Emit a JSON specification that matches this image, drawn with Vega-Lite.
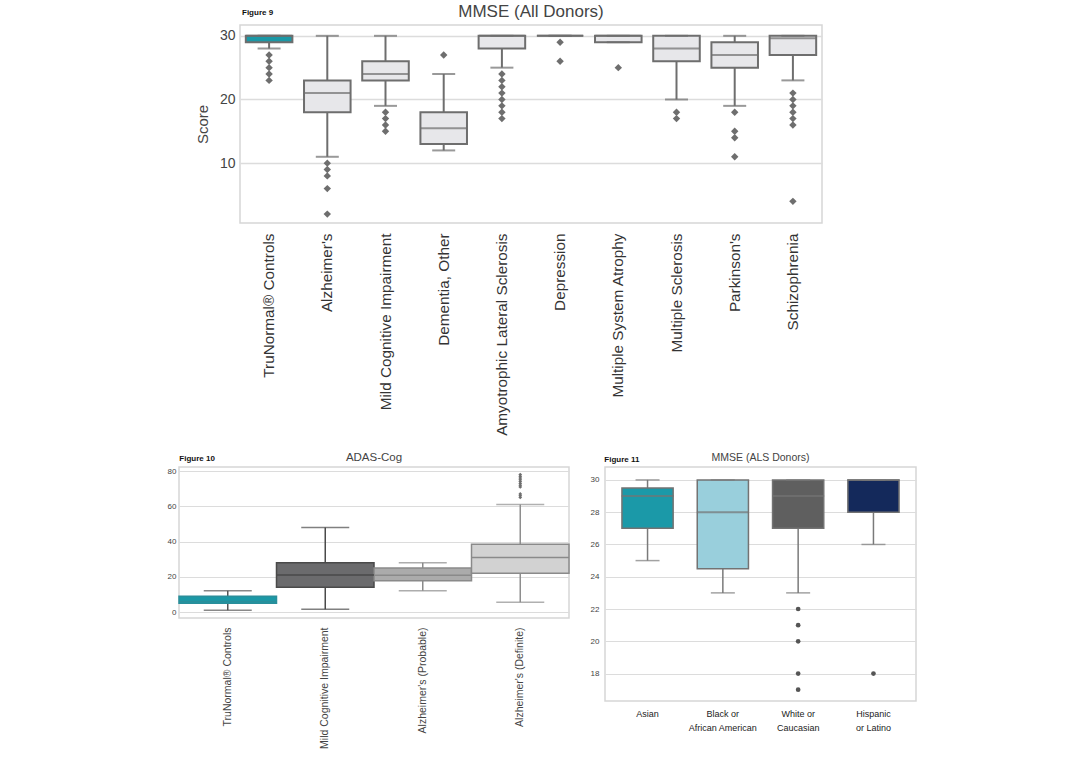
{
  "$schema": "https://vega.github.io/schema/vega-lite/v6.json",
  "background": "white",
  "padding": {"left": 166, "top": 2, "right": 5, "bottom": 2},
  "config": {
    "font": "Liberation Sans",
    "view": {"stroke": "#d6d6d6", "strokeWidth": 1.5},
    "axis": {"domain": false, "ticks": false, "labelColor": "#444", "titleColor": "#444", "titleFontWeight": "normal", "gridColor": "#dcdcdc", "tickCount": 20, "labelOverlap": false, "labelLimit": 400},
    "title": {"fontWeight": "normal", "color": "#444"}
  },
  "datasets": {
    "spacer": [],
    "f9": [
      {"cat": "TruNormal® Controls", "lo": 28, "q1": 29, "med": 30, "q3": 30, "hi": 30},
      {"cat": "Alzheimer's", "lo": 11, "q1": 18, "med": 21, "q3": 23, "hi": 30},
      {"cat": "Mild Cognitive Impairment", "lo": 19, "q1": 23, "med": 24, "q3": 26, "hi": 30},
      {"cat": "Dementia, Other", "lo": 12, "q1": 13, "med": 15.5, "q3": 18, "hi": 24},
      {"cat": "Amyotrophic Lateral Sclerosis", "lo": 25, "q1": 28, "med": 30, "q3": 30, "hi": 30},
      {"cat": "Depression", "lo": 30, "q1": 30, "med": 30, "q3": 30, "hi": 30},
      {"cat": "Multiple System Atrophy", "lo": 29, "q1": 29, "med": 30, "q3": 30, "hi": 30},
      {"cat": "Multiple Sclerosis", "lo": 20, "q1": 26, "med": 28, "q3": 30, "hi": 30},
      {"cat": "Parkinson's", "lo": 19, "q1": 25, "med": 27, "q3": 29, "hi": 30},
      {"cat": "Schizophrenia", "lo": 23, "q1": 27, "med": 29.6, "q3": 30, "hi": 30}
    ],
    "f9o": [
      {"cat": "TruNormal® Controls", "v": 27}, {"cat": "TruNormal® Controls", "v": 26}, {"cat": "TruNormal® Controls", "v": 25}, {"cat": "TruNormal® Controls", "v": 24}, {"cat": "TruNormal® Controls", "v": 23},
      {"cat": "Alzheimer's", "v": 10}, {"cat": "Alzheimer's", "v": 9}, {"cat": "Alzheimer's", "v": 8}, {"cat": "Alzheimer's", "v": 6}, {"cat": "Alzheimer's", "v": 2},
      {"cat": "Mild Cognitive Impairment", "v": 18}, {"cat": "Mild Cognitive Impairment", "v": 17}, {"cat": "Mild Cognitive Impairment", "v": 16}, {"cat": "Mild Cognitive Impairment", "v": 15},
      {"cat": "Dementia, Other", "v": 27},
      {"cat": "Amyotrophic Lateral Sclerosis", "v": 24}, {"cat": "Amyotrophic Lateral Sclerosis", "v": 23}, {"cat": "Amyotrophic Lateral Sclerosis", "v": 22}, {"cat": "Amyotrophic Lateral Sclerosis", "v": 21}, {"cat": "Amyotrophic Lateral Sclerosis", "v": 20}, {"cat": "Amyotrophic Lateral Sclerosis", "v": 19}, {"cat": "Amyotrophic Lateral Sclerosis", "v": 18}, {"cat": "Amyotrophic Lateral Sclerosis", "v": 17},
      {"cat": "Depression", "v": 29}, {"cat": "Depression", "v": 26},
      {"cat": "Multiple System Atrophy", "v": 25},
      {"cat": "Multiple Sclerosis", "v": 18}, {"cat": "Multiple Sclerosis", "v": 17},
      {"cat": "Parkinson's", "v": 18}, {"cat": "Parkinson's", "v": 15}, {"cat": "Parkinson's", "v": 14}, {"cat": "Parkinson's", "v": 11},
      {"cat": "Schizophrenia", "v": 21}, {"cat": "Schizophrenia", "v": 20}, {"cat": "Schizophrenia", "v": 19}, {"cat": "Schizophrenia", "v": 18}, {"cat": "Schizophrenia", "v": 17}, {"cat": "Schizophrenia", "v": 16}, {"cat": "Schizophrenia", "v": 4}
    ],
    "f10": [
      {"cat": "TruNormal® Controls", "lo": 1, "q1": 5, "med": 6, "q3": 9, "hi": 12},
      {"cat": "Mild Cognitive Impairment", "lo": 1.5, "q1": 14, "med": 21, "q3": 28, "hi": 48},
      {"cat": "Alzheimer's (Probable)", "lo": 12, "q1": 17.7, "med": 20.8, "q3": 25, "hi": 28},
      {"cat": "Alzheimer's (Definite)", "lo": 5.5, "q1": 22, "med": 31, "q3": 38.5, "hi": 61}
    ],
    "f10o": [
      {"cat": "Alzheimer's (Definite)", "v": 78}, {"cat": "Alzheimer's (Definite)", "v": 77}, {"cat": "Alzheimer's (Definite)", "v": 76}, {"cat": "Alzheimer's (Definite)", "v": 75}, {"cat": "Alzheimer's (Definite)", "v": 74}, {"cat": "Alzheimer's (Definite)", "v": 73}, {"cat": "Alzheimer's (Definite)", "v": 72}, {"cat": "Alzheimer's (Definite)", "v": 71}, {"cat": "Alzheimer's (Definite)", "v": 67}, {"cat": "Alzheimer's (Definite)", "v": 66}, {"cat": "Alzheimer's (Definite)", "v": 65}
    ],
    "f11": [
      {"cat": "Asian", "lo": 25, "q1": 27, "med": 29, "q3": 29.5, "hi": 30},
      {"cat": "Black or African American", "lo": 23, "q1": 24.5, "med": 28, "q3": 30, "hi": 30},
      {"cat": "White or Caucasian", "lo": 23, "q1": 27, "med": 29, "q3": 30, "hi": 30},
      {"cat": "Hispanic or Latino", "lo": 26, "q1": 28, "med": 30, "q3": 30, "hi": 30}
    ],
    "f11o": [
      {"cat": "White or Caucasian", "v": 22}, {"cat": "White or Caucasian", "v": 21}, {"cat": "White or Caucasian", "v": 20}, {"cat": "White or Caucasian", "v": 18}, {"cat": "White or Caucasian", "v": 17},
      {"cat": "Hispanic or Latino", "v": 18}
    ]
  },
  "spacing": 13,
  "resolve": {"scale": {"fill": "independent", "stroke": "independent", "color": "independent"}},
  "vconcat": [
    {
      "title": {"text": "Figure 9", "anchor": "start", "fontSize": 8, "fontWeight": "bold", "color": "#111", "offset": -15, "dx": 63},
      "spacing": 5,
      "resolve": {"scale": {"fill": "independent", "stroke": "independent", "color": "independent"}},
      "hconcat": [
        {
          "width": 10,
          "height": 10,
          "view": {"stroke": null},
          "data": {"name": "spacer"},
          "mark": "point"
        },
        {
          "width": 582,
          "height": 198,
          "title": {"text": "MMSE (All Donors)", "fontSize": 17, "offset": 4},
          "data": {"name": "f9"},
          "encoding": {
            "x": {"field": "cat", "type": "nominal", "sort": null, "scale": {"type": "band", "paddingInner": 0, "paddingOuter": 0},
                  "axis": {"title": null, "labelAngle": -90, "labelFontSize": 15.3, "labelPadding": 10, "labelColor": "#333", "grid": false}}
          },
          "layer": [
            {"mark": {"type": "rule", "color": "#6e6e6e", "strokeWidth": 2},
             "encoding": {"y": {"field": "lo", "type": "quantitative", "scale": {"domain": [0.6, 31.7], "nice": false, "zero": false},
                                "axis": {"title": "Score", "titleFontSize": 15, "titlePadding": 9, "labelFontSize": 14, "values": [10, 20, 30], "grid": true, "gridWidth": 1.5, "labelPadding": 5}},
                          "y2": {"field": "hi"}}},
            {"mark": {"type": "bar", "width": {"band": 0.8}, "stroke": "#6e6e6e", "strokeWidth": 2},
             "encoding": {"y": {"field": "q1", "type": "quantitative"}, "y2": {"field": "q3"},
                          "fill": {"field": "cat", "type": "nominal", "legend": null,
                                   "scale": {"domain": ["TruNormal® Controls", "Alzheimer's", "Mild Cognitive Impairment", "Dementia, Other", "Amyotrophic Lateral Sclerosis", "Depression", "Multiple System Atrophy", "Multiple Sclerosis", "Parkinson's", "Schizophrenia"],
                                             "range": ["#1b98a6", "#e7e7ea", "#e7e7ea", "#e7e7ea", "#e7e7ea", "#e7e7ea", "#e7e7ea", "#e7e7ea", "#e7e7ea", "#e7e7ea"]}}}},
            {"mark": {"type": "tick", "orient": "horizontal", "color": "#6e6e6e", "size": 46, "thickness": 2},
             "encoding": {"y": {"field": "med", "type": "quantitative"}}},
            {"mark": {"type": "tick", "orient": "horizontal", "color": "#6e6e6e", "size": 23, "thickness": 2},
             "encoding": {"y": {"field": "lo", "type": "quantitative"}}},
            {"mark": {"type": "tick", "orient": "horizontal", "color": "#6e6e6e", "size": 23, "thickness": 2},
             "encoding": {"y": {"field": "hi", "type": "quantitative"}}},
            {"data": {"name": "f9o"},
             "mark": {"type": "point", "shape": "diamond", "filled": true, "color": "#6e6e6e", "size": 55, "opacity": 1},
             "encoding": {"x": {"field": "cat", "type": "nominal", "sort": null}, "y": {"field": "v", "type": "quantitative"}}}
          ]
        }
      ]
    },
    {
      "spacing": 18,
      "resolve": {"scale": {"fill": "independent", "stroke": "independent", "color": "independent"}},
      "hconcat": [
        {
          "title": {"text": "Figure 10", "anchor": "start", "fontSize": 8, "fontWeight": "bold", "color": "#111", "offset": -12, "dx": 13},
          "resolve": {"scale": {"fill": "independent", "stroke": "independent", "color": "independent"}},
          "vconcat": [
            {
              "width": 390,
              "height": 151,
              "title": {"text": "ADAS-Cog", "fontSize": 11.5, "offset": 4},
              "data": {"name": "f10"},
              "encoding": {
                "x": {"field": "cat", "type": "nominal", "sort": null, "scale": {"type": "band", "paddingInner": 0, "paddingOuter": 0},
                      "axis": {"title": null, "labelAngle": -90, "labelFontSize": 10.5, "labelPadding": 9, "labelColor": "#444", "grid": false}}
              },
              "layer": [
                {"mark": {"type": "rule", "strokeWidth": 1.5},
                 "encoding": {"y": {"field": "lo", "type": "quantitative", "scale": {"domain": [-3.4, 82.3], "nice": false, "zero": false},
                                    "axis": {"title": null, "labelFontSize": 8, "values": [0, 20, 40, 60, 80], "grid": true, "labelPadding": 3}},
                              "y2": {"field": "hi"},
                              "color": {"field": "cat", "type": "nominal", "legend": null, "scale": {"domain": ["TruNormal® Controls", "Mild Cognitive Impairment", "Alzheimer's (Probable)", "Alzheimer's (Definite)"], "range": ["#555555", "#4a4a4a", "#8a8a8a", "#8e8e8e"]}}}},
                {"mark": {"type": "bar", "width": {"band": 1}, "strokeWidth": 1.5},
                 "encoding": {"y": {"field": "q1", "type": "quantitative"}, "y2": {"field": "q3"},
                              "fill": {"field": "cat", "type": "nominal", "legend": null, "scale": {"domain": ["TruNormal® Controls", "Mild Cognitive Impairment", "Alzheimer's (Probable)", "Alzheimer's (Definite)"], "range": ["#1b98a6", "#6b6b6d", "#ababab", "#d2d2d2"]}},
                              "stroke": {"field": "cat", "type": "nominal", "legend": null, "scale": {"domain": ["TruNormal® Controls", "Mild Cognitive Impairment", "Alzheimer's (Probable)", "Alzheimer's (Definite)"], "range": ["#2a8e9a", "#4a4a4a", "#8a8a8a", "#8a8a8a"]}}}},
                {"mark": {"type": "bar", "width": {"band": 1}, "strokeWidth": 1.5, "fillOpacity": 0},
                 "encoding": {"y": {"field": "med", "type": "quantitative"}, "y2": {"field": "med"},
                              "stroke": {"field": "cat", "type": "nominal", "legend": null}}},
                {"mark": {"type": "tick", "orient": "horizontal", "size": 48, "thickness": 1.5},
                 "encoding": {"y": {"field": "lo", "type": "quantitative"}, "color": {"field": "cat", "type": "nominal", "legend": null}}},
                {"mark": {"type": "tick", "orient": "horizontal", "size": 48, "thickness": 1.5},
                 "encoding": {"y": {"field": "hi", "type": "quantitative"}, "color": {"field": "cat", "type": "nominal", "legend": null}}},
                {"data": {"name": "f10o"},
                 "mark": {"type": "point", "shape": "diamond", "filled": true, "fill": "#6e6e6e", "stroke": null, "size": 14, "opacity": 1},
                 "encoding": {"x": {"field": "cat", "type": "nominal", "sort": null}, "y": {"field": "v", "type": "quantitative"}}}
              ]
            }
          ]
        },
        {
          "title": {"text": "Figure 11", "anchor": "start", "fontSize": 8, "fontWeight": "bold", "color": "#111", "offset": -12, "dx": 15},
          "resolve": {"scale": {"fill": "independent", "stroke": "independent", "color": "independent"}},
          "vconcat": [
            {
              "width": 311,
              "height": 234,
              "title": {"text": "MMSE (ALS Donors)", "fontSize": 10.5, "offset": 4},
              "data": {"name": "f11"},
              "encoding": {
                "x": {"field": "cat", "type": "nominal", "sort": null, "scale": {"type": "band", "paddingInner": 0, "paddingOuter": 0.065},
                      "axis": {"title": null, "labelAngle": 0, "labelFontSize": 9, "labelPadding": 8, "labelColor": "#222", "grid": false, "labelLineHeight": 14,
                               "labelExpr": "datum.label == 'Black or African American' ? ['Black or', 'African American'] : datum.label == 'White or Caucasian' ? ['White or', 'Caucasian'] : datum.label == 'Hispanic or Latino' ? ['Hispanic', 'or Latino'] : datum.label"}}
              },
              "layer": [
                {"mark": {"type": "rule", "color": "#7a7a7a", "strokeWidth": 1.5},
                 "encoding": {"y": {"field": "lo", "type": "quantitative", "scale": {"domain": [16.3, 30.8], "nice": false, "zero": false},
                                    "axis": {"title": null, "labelFontSize": 8, "values": [18, 20, 22, 24, 26, 28, 30], "grid": true, "labelPadding": 6}},
                              "y2": {"field": "hi"}}},
                {"mark": {"type": "bar", "width": {"band": 0.68}, "strokeWidth": 1.5, "stroke": "#737373"},
                 "encoding": {"y": {"field": "q1", "type": "quantitative"}, "y2": {"field": "q3"},
                              "fill": {"field": "cat", "type": "nominal", "legend": null, "scale": {"domain": ["Asian", "Black or African American", "White or Caucasian", "Hispanic or Latino"], "range": ["#1b99a8", "#99cfdc", "#5f5f5f", "#14295b"]}}}},
                {"mark": {"type": "tick", "orient": "horizontal", "color": "#737373", "size": 52, "thickness": 2},
                 "encoding": {"y": {"field": "med", "type": "quantitative"}}},
                {"mark": {"type": "tick", "orient": "horizontal", "color": "#7a7a7a", "size": 24, "thickness": 1.5},
                 "encoding": {"y": {"field": "lo", "type": "quantitative"}}},
                {"mark": {"type": "tick", "orient": "horizontal", "color": "#7a7a7a", "size": 24, "thickness": 1.5},
                 "encoding": {"y": {"field": "hi", "type": "quantitative"}}},
                {"data": {"name": "f11o"},
                 "mark": {"type": "point", "shape": "circle", "filled": true, "color": "#555555", "size": 22, "opacity": 1},
                 "encoding": {"x": {"field": "cat", "type": "nominal", "sort": null}, "y": {"field": "v", "type": "quantitative"}}}
              ]
            }
          ]
        }
      ]
    }
  ]
}
